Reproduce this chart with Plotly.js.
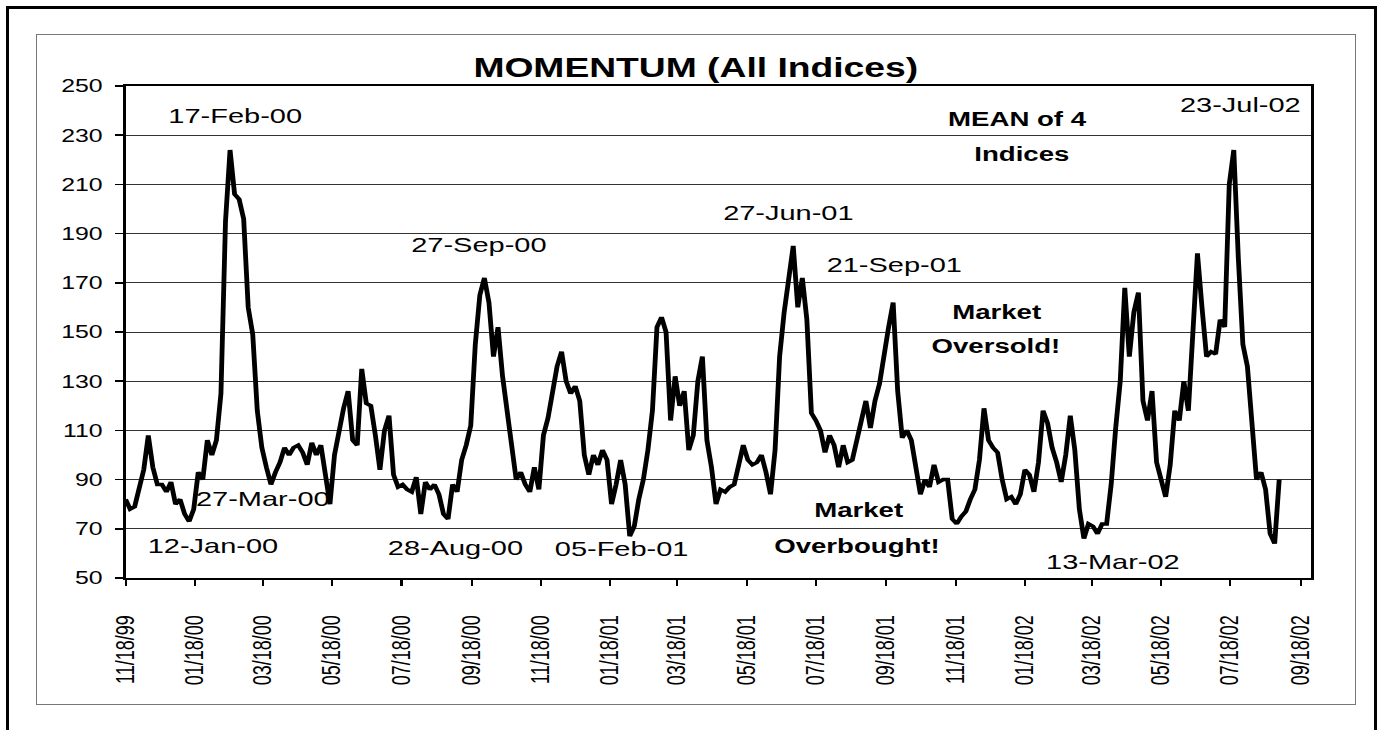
<!DOCTYPE html>
<html>
<head>
<meta charset="utf-8">
<script src="https://cdn.plot.ly/plotly-3.0.1.min.js"></script>
<style>
    body { margin: 0; background: #fff; overflow: hidden; }
    #chart {
        position: absolute; left: 0; top: 0;
        width: 1000px; height: 730px;
        transform: scaleX(1.38); transform-origin: 0 0;
    }
    #outer-box {
        position: absolute; left: 6px; top: 6px; width: 1371px; height: 800px;
        border: 3px solid #000; box-sizing: border-box; pointer-events: none; z-index: 2;
    }
    #inner-box {
        position: absolute; left: 36px; top: 34px; width: 1320px; height: 671px;
        border: 1px solid #777; box-sizing: border-box; pointer-events: none; z-index: 2;
    }
</style>
</head>
<body>
<div id="chart"></div>
<div id="outer-box"></div>
<div id="inner-box"></div>
<script>
// Momentum, mean of 4 indices, every 4 days from 18 Nov 1999
const startDate = "1999-11-18";
const stepDays = 4;
const momentum = [
    82, 78, 79, 86, 94, 108, 95, 88, 88, 85, 89, 80, 82, 76, 73, 78, 93, 90, 106, 100,
    106, 125, 195, 224, 206, 204, 196, 160, 149, 118, 103, 95, 88, 93, 97, 103, 100, 103, 104, 101,
    96, 105, 100, 104, 92, 80, 100, 110, 119, 126, 106, 104, 135, 121, 120, 108, 94, 110, 116, 92,
    87, 88, 86, 85, 91, 76, 89, 86, 88, 84, 76, 74, 88, 85, 98, 104, 112, 145, 165, 172,
    162, 140, 152, 132, 118, 104, 90, 93, 88, 85, 95, 86, 108, 115, 125, 136, 142, 130, 125, 128,
    122, 100, 92, 100, 96, 102, 98, 80, 88, 98, 88, 67, 71, 82, 90, 102, 118, 152, 156, 150,
    114, 132, 120, 126, 102, 108, 130, 140, 106, 95, 80, 86, 85, 87, 88, 97, 104, 98, 96, 97,
    100, 93, 84, 102, 140, 158, 170, 185, 160, 172, 155, 117, 114, 110, 101, 108, 104, 95, 104, 97,
    98, 106, 114, 122, 111, 122, 129, 142, 152, 162, 126, 107, 110, 106, 96, 84, 90, 87, 96, 89,
    90, 90, 74, 72, 75, 77, 82, 86, 98, 119, 106, 103, 101, 90, 82, 83, 80, 84, 94, 92,
    85, 97, 118, 113, 103, 97, 89, 100, 116, 102, 78, 66, 72, 71, 68, 72, 72, 88, 111, 130,
    168, 140, 158, 166, 122, 114, 126, 97, 90, 83, 96, 118, 114, 130, 118, 150, 182, 160, 140, 142,
    141, 155, 152, 210, 224, 180, 145, 136, 110, 90, 93, 86, 68, 64, 90
];

const tickDates = [
    "1999-11-18", "2000-01-18", "2000-03-18", "2000-05-18", "2000-07-18", "2000-09-18",
    "2000-11-18", "2001-01-18", "2001-03-18", "2001-05-18", "2001-07-18", "2001-09-18",
    "2001-11-18", "2002-01-18", "2002-03-18", "2002-05-18", "2002-07-18", "2002-09-18"
];

const dateLabels = ["17-Feb-00", "27-Sep-00", "27-Jun-01", "21-Sep-01", "23-Jul-02",
    "12-Jan-00", "27-Mar-00", "28-Aug-00", "05-Feb-01", "13-Mar-02"];
const boldLabels = ["MEAN of 4", "Indices", "Market", "Oversold!", "Market", "Overbought!"];

// build the date axis values
const t0 = new Date(startDate + "T00:00:00Z").getTime();
const dates = momentum.map((v, i) => new Date(t0 + i * stepDays * 86400000).toISOString().slice(0, 10));

const font = "Liberation Sans, Arial, sans-serif";

// label positions on the plot area (paper coords)
const datePos = [[0.093, 0.941], [0.298, 0.677], [0.559, 0.742], [0.648, 0.638], [0.941, 0.963],
    [0.074, 0.067], [0.116, 0.161], [0.278, 0.063], [0.419, 0.059], [0.833, 0.033]];
const boldPos = [[0.753, 0.933], [0.756, 0.862], [0.735, 0.541], [0.734, 0.472], [0.619, 0.138], [0.617, 0.065]];

let annotations = [];
dateLabels.forEach((txt, i) => {
    annotations.push({
        text: txt, xref: "paper", yref: "paper", x: datePos[i][0], y: datePos[i][1],
        xanchor: "center", yanchor: "middle", showarrow: false,
        font: { family: font, size: 21, color: "#000" }
    });
});
boldLabels.forEach((txt, i) => {
    annotations.push({
        text: "<b>" + txt + "</b>", xref: "paper", yref: "paper", x: boldPos[i][0], y: boldPos[i][1],
        xanchor: "center", yanchor: "middle", showarrow: false,
        font: { family: font, size: 20, color: "#000" }
    });
});

let trace = {
    x: dates,
    y: momentum,
    type: "scatter",
    mode: "lines",
    line: { color: "#000", width: 3.5 },
    hoverinfo: "skip"
};

let layout = {
    width: 1000,
    height: 730,
    margin: { l: 91.3, r: 50, t: 86, b: 152 },
    paper_bgcolor: "#fff",
    plot_bgcolor: "#fff",
    showlegend: false,
    title: {
        text: "<b>MOMENTUM (All Indices)</b>",
        font: { family: font, size: 27, color: "#000" },
        xref: "paper", x: 0.481, xanchor: "center",
        yref: "container", y: 0.907, yanchor: "middle"
    },
    xaxis: {
        type: "date",
        range: ["1999-11-18", "2002-09-27"],
        tickvals: tickDates,
        tickformat: "%m/%d/%y",
        tickangle: -90,
        ticks: "outside", ticklen: 6, tickwidth: 1.5, tickcolor: "#000",
        ticklabelstandoff: 22,
        tickfont: { family: font, size: 18, color: "#000" },
        showgrid: false, zeroline: false,
        showline: true, linecolor: "#000", linewidth: 2, mirror: true
    },
    yaxis: {
        range: [50, 250],
        tick0: 50, dtick: 20,
        ticks: "outside", ticklen: 6, tickwidth: 1.5, tickcolor: "#000",
        ticklabelstandoff: 5,
        tickfont: { family: font, size: 18, color: "#000" },
        showgrid: true, gridcolor: "#333", gridwidth: 1,
        zeroline: false,
        showline: true, linecolor: "#000", linewidth: 2, mirror: true
    },
    annotations: annotations
};

Plotly.newPlot("chart", [trace], layout, { displayModeBar: false, staticPlot: true });
</script>
</body>
</html>
